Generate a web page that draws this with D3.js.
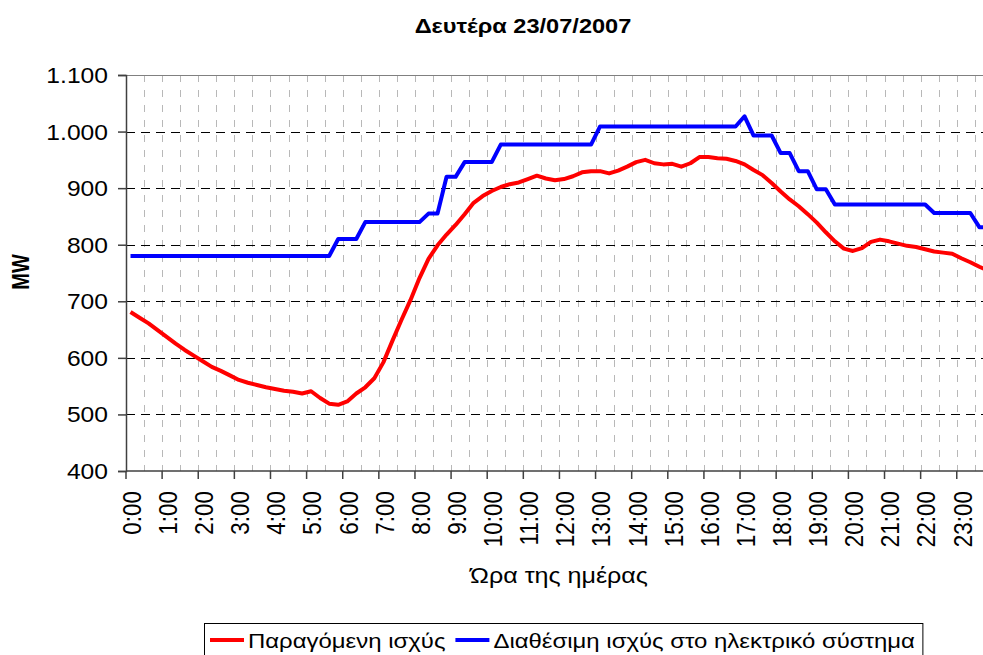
<!DOCTYPE html>
<html>
<head>
<meta charset="utf-8">
<script src="https://cdn.jsdelivr.net/npm/d3@7"></script>
<style>
  html, body { margin: 0; padding: 0; background: #fff; overflow: hidden; }
  svg { display: block; }
  text { font-family: "Liberation Sans", Arial, sans-serif; fill: #000; }
</style>
</head>
<body>
<svg id="chart" width="983" height="655"></svg>
<script>
// ---- data ----
const categories = [
  "0:00","0:15","0:30","0:45","1:00","1:15","1:30","1:45","2:00","2:15","2:30","2:45",
  "3:00","3:15","3:30","3:45","4:00","4:15","4:30","4:45","5:00","5:15","5:30","5:45",
  "6:00","6:15","6:30","6:45","7:00","7:15","7:30","7:45","8:00","8:15","8:30","8:45",
  "9:00","9:15","9:30","9:45","10:00","10:15","10:30","10:45","11:00","11:15","11:30","11:45",
  "12:00","12:15","12:30","12:45","13:00","13:15","13:30","13:45","14:00","14:15","14:30","14:45",
  "15:00","15:15","15:30","15:45","16:00","16:15","16:30","16:45","17:00","17:15","17:30","17:45",
  "18:00","18:15","18:30","18:45","19:00","19:15","19:30","19:45","20:00","20:15","20:30","20:45",
  "21:00","21:15","21:30","21:45","22:00","22:15","22:30","22:45","23:00","23:15","23:30","23:45"
];
const produced = [
  681,671,661,649,637,625,614,604,594,584,577,569,
  561,556,552,548,545,542,540,537,541,529,519,517,
  523,537,548,564,592,630,667,702,741,775,799,818,
  835,854,874,886,895,902,907,910,916,922,917,914,
  916,921,928,930,930,926,931,938,946,950,944,942,
  943,938,944,955,955,953,952,948,942,932,923,909,
  894,880,868,854,839,822,806,793,789,794,805,809,
  806,802,798,796,792,788,786,784,776,769,761,754
];
const available = [
  780,780,780,780,780,780,780,780,780,780,780,780,
  780,780,780,780,780,780,780,780,780,780,780,810,
  810,810,840,840,840,840,840,840,840,855,855,920,
  920,946,946,946,946,977,977,977,977,977,977,977,
  977,977,977,977,1009,1009,1009,1009,1009,1009,1009,1009,
  1009,1009,1009,1009,1009,1009,1009,1009,1027,993,993,993,
  962,962,930,930,898,898,871,871,871,871,871,871,
  871,871,871,871,871,856,856,856,856,856,831,831
];
const xTickLabels = ["0:00","1:00","2:00","3:00","4:00","5:00","6:00","7:00","8:00","9:00","10:00","11:00",
  "12:00","13:00","14:00","15:00","16:00","17:00","18:00","19:00","20:00","21:00","22:00","23:00"];
const yTickValues = [400,500,600,700,800,900,1000,1100];
const yTickLabels = ["400","500","600","700","800","900","1.000","1.100"];
const seriesNames = ["Παραγόμενη ισχύς","Διαθέσιμη ισχύς στο ηλεκτρικό σύστημα"];
const seriesColors = ["#ff0000","#0000ff"];
const titleText = "Δευτέρα 23/07/2007";
const xTitle = "Ώρα της ημέρας";
const yTitle = "MW";

// ---- layout ----
const svg = d3.select("#chart");
const pLeft = 126, pTop = 75, pBottom = 471, pRight = 126 + 96 * 9.03;
const SX = 1.18; // horizontal glyph stretch seen in the reference

const x = d3.scaleBand().domain(categories).range([pLeft, pRight]).paddingInner(0).paddingOuter(0);
const y = d3.scaleLinear().domain([400, 1100]).range([pBottom, pTop]);
const cx = c => x(c) + x.bandwidth() / 2;

// vertical minor gridlines every 2 categories
const gridCats = categories.filter((c, i) => i % 2 === 0 && i > 0);
svg.append("g").selectAll("line").data(gridCats).join("line")
  .attr("x1", d => Math.round(x(d)) + 0.5).attr("x2", d => Math.round(x(d)) + 0.5)
  .attr("y1", pTop).attr("y2", pBottom)
  .attr("stroke", "#b8b8b8").attr("stroke-width", 1).attr("stroke-dasharray", "7,8");

// horizontal major gridlines
svg.append("g").selectAll("line").data(yTickValues.filter(v => v > 400 && v < 1100)).join("line")
  .attr("x1", pLeft).attr("x2", 983)
  .attr("y1", d => Math.round(y(d)) + 0.5).attr("y2", d => Math.round(y(d)) + 0.5)
  .attr("stroke", "#000").attr("stroke-width", 1).attr("stroke-dasharray", "9,6");

// top border
svg.append("line").attr("x1", pLeft).attr("x2", 983)
  .attr("y1", Math.round(y(1100)) + 0.5).attr("y2", Math.round(y(1100)) + 0.5)
  .attr("stroke", "#808080").attr("stroke-width", 1);

// y axis
const yAxis = d3.axisLeft(y).tickValues(yTickValues)
  .tickFormat((d, i) => yTickLabels[i]).tickSizeOuter(0).tickSize(8).tickPadding(11);
const gy = svg.append("g").attr("transform", `translate(${pLeft},0)`).call(yAxis);
gy.select(".domain").attr("stroke", "#404040").attr("stroke-width", 1.5);
gy.selectAll(".tick line").attr("stroke", "#404040").attr("stroke-width", 1.5);
gy.selectAll(".tick text")
  .attr("x", 0).attr("dy", "0.34em")
  .attr("transform", `translate(-18,0) scale(1.12,1)`)
  .style("font-family", '"Liberation Sans", Arial, sans-serif')
  .style("font-size", "22px").attr("fill", "#000");

// x axis
const majorCats = categories.filter((c, i) => i % 4 === 0);
const gx = svg.append("g").attr("transform", `translate(0,${pBottom})`);
gx.append("line").attr("x1", pLeft).attr("x2", 983).attr("y1", 0).attr("y2", 0)
  .attr("stroke", "#404040").attr("stroke-width", 1.5);
gx.selectAll("line.tk").data(majorCats).join("line").attr("class", "tk")
  .attr("x1", d => x(d)).attr("x2", d => x(d)).attr("y1", 0).attr("y2", 8)
  .attr("stroke", "#404040").attr("stroke-width", 1.5);
gx.selectAll("text").data(xTickLabels).join("text")
  .attr("transform", (d, i) => `translate(${cx(categories[i * 4]) + 1},${20}) scale(${SX},1) rotate(-90)`)
  .attr("text-anchor", "end").attr("dy", "0.35em")
  .style("font-size", "22.5px").text(d => d);

// lines
const line = d3.line().x((d, i) => cx(categories[i])).y(d => y(d));
[produced, available].forEach((s, k) => {
  svg.append("path").datum(s).attr("d", line)
    .attr("fill", "none").attr("stroke", seriesColors[k]).attr("stroke-width", 4)
    .attr("stroke-linejoin", "round").attr("stroke-linecap", "butt");
});

// titles
svg.append("text").attr("transform", `translate(523,33) scale(${SX},1)`).attr("text-anchor", "middle")
  .style("font-size", "20px").style("font-weight", "bold").text(titleText);
svg.append("text").attr("transform", `translate(21,272) scale(${SX},1) rotate(-90)`).attr("text-anchor", "middle")
  .attr("dy", "0.35em")
  .style("font-size", "20px").style("font-weight", "bold").text(yTitle);
svg.append("text").attr("transform", `translate(559,583) scale(${SX - 0.04},1)`).attr("text-anchor", "middle")
  .style("font-size", "22px").text(xTitle);

// legend
const lg = svg.append("g");
const box = lg.append("rect").attr("x", 204.5).attr("y", 623.5).attr("height", 40)
  .attr("fill", "#fff").attr("stroke", "#000").attr("stroke-width", 1);
let lx = 210;
const LSX = 1.14;
const GAP = 10;
seriesNames.forEach((n, k) => {
  lg.append("line").attr("x1", lx).attr("x2", lx + 34).attr("y1", 640).attr("y2", 640)
    .attr("stroke", seriesColors[k]).attr("stroke-width", 4);
  const t = lg.append("text").attr("transform", `translate(${lx + 38},648) scale(${LSX},1)`)
    .style("font-size", "21px").text(n);
  lx = lx + 38 + t.node().getComputedTextLength() * LSX + GAP;
});
box.attr("width", lx - GAP + 8 - 204.5);
</script>
</body>
</html>
